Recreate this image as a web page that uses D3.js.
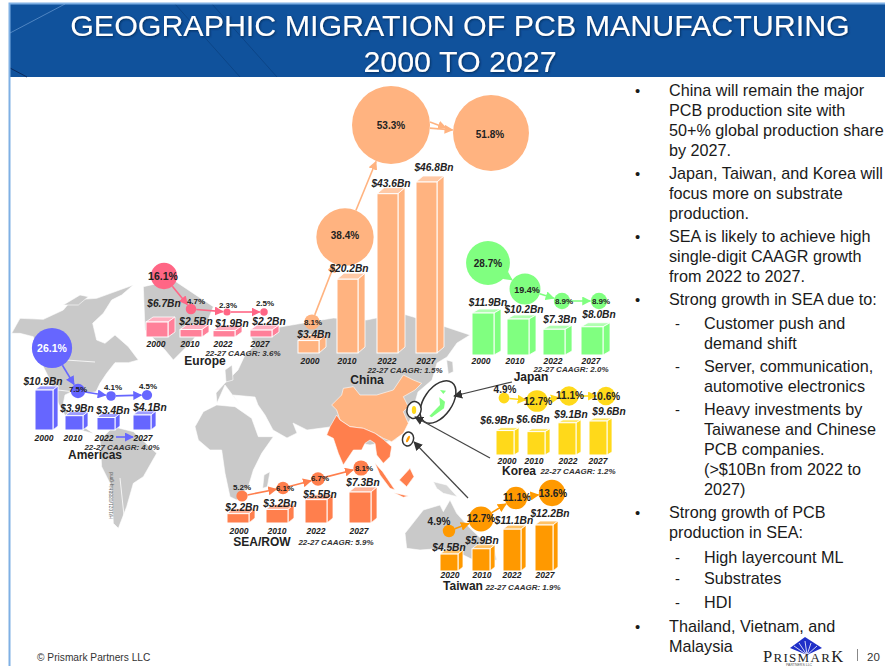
<!DOCTYPE html>
<html><head><meta charset="utf-8">
<script src="https://cdn.jsdelivr.net/npm/d3@7"></script>
<style>
html,body{margin:0;padding:0;background:#fff;overflow:hidden}
svg{display:block;font-family:"Liberation Sans",Arial,sans-serif}
</style></head><body><svg id="c" width="885" height="666"></svg>
<script>
// ---------- data ----------
const years = ['2000','2010','2022','2027'];
const taiwanYears = ['2020','2010','2022','2027'];
const americasValues = [10.9,3.9,3.4,4.1];
const americasShares = [26.1,7.5,4.1,4.5];
const europeValues = [6.7,2.5,1.9,2.2];
const europeShares = [16.1,4.7,2.3,2.5];
const chinaValues = [3.4,20.2,43.6,46.8];
const chinaShares = [8.1,38.4,53.3,51.8];
const japanValues = [11.9,10.2,7.3,8.0];
const japanShares = [28.7,19.4,8.9,8.9];
const koreaValues = [6.9,6.6,9.1,9.6];
const koreaShares = [4.9,12.7,11.1,10.6];
const taiwanValues = [4.5,5.9,11.1,12.2];
const taiwanShares = [4.9,12.7,11.1,13.6];
const seaValues = [2.2,3.2,5.5,7.3];
const seaShares = [5.2,6.1,6.7,8.1];
const caagrTexts = {Americas:'4.0%',Europe:'3.6%',China:'1.5%',Japan:'2.0%',Korea:'1.2%',Taiwan:'1.9%','SEA/ROW':'5.9%'};
const titleLines = ['GEOGRAPHIC MIGRATION OF PCB MANUFACTURING','2000 TO 2027'];
const notes = [
 ['b','China will remain the major',96],['t','PCB production site with',116],['t','50+% global production share',136],['t','by 2027.',156],
 ['b','Japan, Taiwan, and Korea will',179],['t','focus more on substrate',199],['t','production.',219],
 ['b','SEA is likely to achieve high',242],['t','single-digit CAAGR growth',262],['t','from 2022 to 2027.',282],
 ['b','Strong growth in SEA due to:',305],
 ['d','Customer push and',329],['s','demand shift',349],
 ['d','Server, communication,',372],['s','automotive electronics',392],
 ['d','Heavy investments by',415],['s','Taiwanese and Chinese',435],['s','PCB companies.',455],['s','(>$10Bn from 2022 to',475],['s','2027)',495],
 ['b','Strong growth of PCB',518],['t','production in SEA:',538],
 ['d','High layercount ML',563],['d','Substrates',584],['d','HDI',608],
 ['b','Thailand, Vietnam, and',632],['t','Malaysia',652]];

// ---------- layout ----------
const regions = [
 {name:'Americas',cats:years,vals:americasValues,shares:americasShares,color:'#6666ff',bubble:'#6666ff',top:'#9d9dff',rk:1,
  barX:[35,65,97,133],w:18,dx:5,dy:4,base:430,dom:[0,10.9],rng:[0,40],
  bx:[52,78,111,147],by:[348,391,396,395],
  px:[52,78,113,148],py:[348,389,387,386],ps:[10.5,8,8,8],
  vx:[43,77,113,150],vy:[381,408,410,407],yx:[44,73,104,143],yy:438,
  nameAt:[95,455],caagrAt:[122,447]},
 {name:'Europe',cats:years,vals:europeValues,shares:europeShares,color:'#ff8099',bubble:'#ff6685',top:'#ffb0c0',rk:1,
  barX:[146,180,213,250],w:22,dx:7,dy:5,base:337,dom:[0,6.7],rng:[3,15],
  bx:[164,191,227,264],by:[276,309,312,312],
  px:[163,196,228,265],py:[276,301,305,303],ps:[10.5,8,8,8],
  vx:[164,196,232,269],vy:[303,321,323,321],yx:[156,190,223,260],yy:344,
  nameAt:[205,361],caagrAt:[243,353]},
 {name:'China',cats:years,vals:chinaValues,shares:chinaShares,color:'#ffb380',bubble:'#ffb380',top:'#ffc9a6',rk:1,
  barX:[298,337,377,416],w:21,dx:7,dy:6,base:353,dom:[0,46.8],rng:[0,171],
  bx:[312,345,391,491],by:[322,237,125,133],
  px:[313,345,391,490],py:[322,235,125,134],ps:[8,10,10,10],
  vx:[314,349,391,434],vy:[334,268,183,167],yx:[310,347,387,426],yy:361,
  nameAt:[367,380],caagrAt:[405,370]},
 {name:'Japan',cats:years,vals:japanValues,shares:japanShares,color:'#80ff80',bubble:'#80ff80',top:'#b0ffb0',rk:1,
  barX:[472,507,543,581],w:22,dx:7,dy:4,base:355,dom:[0,11.9],rng:[0,42],
  bx:[488,525,562,599],by:[263,289,301,301],
  px:[488,527,564,601],py:[263,290,301,301],ps:[10,9,8,8],
  vx:[488,524,560,599],vy:[302,309,319,314],yx:[481,515,553,591],yy:361,
  nameAt:[531,377],caagrAt:[571,369]},
 {name:'Korea',cats:years,vals:koreaValues,shares:koreaShares,color:'#ffd91a',bubble:'#ffd91a',top:'#ffe866',rk:1,
  barX:[496,527,558,589],w:18,dx:5,dy:3,base:455,dom:[0,9.6],rng:[0,34],
  bx:[504,537,569,606],by:[398,401,396,396],
  px:[505,538,570,606],py:[389,401,395,396],ps:[10,10,10,10],
  vx:[497,533,571,609],vy:[420,419,414,411],yx:[507,534,568,598],yy:461,
  nameAt:[519,471],caagrAt:[578,471]},
 {name:'Taiwan',cats:taiwanYears,vals:taiwanValues,shares:taiwanShares,color:'#ff9900',bubble:'#ff9900',top:'#ffc266',rk:1.15,
  barX:[440,472,503,535],w:18,dx:5,dy:4,base:571,dom:[0,12.2],rng:[0,46],
  bx:[449,481,516,552],by:[531,519,498,493],
  px:[439,481,517,553],py:[521,518,497,493],ps:[10,10,10,10],
  vx:[449,482,514,550],vy:[547,540,520,513],yx:[450,482,512,545],yy:575,
  nameAt:[463,586],caagrAt:[523,587]},
 {name:'SEA/ROW',cats:years,vals:seaValues,shares:seaShares,color:'#ff7f4d',bubble:'#ff7f4d',top:'#ffb499',rk:1,
  barX:[227,266,305,349],w:22,dx:6,dy:5,base:523,dom:[0,7.3],rng:[0,31],
  bx:[242,283,318,361],by:[496,488,479,468],
  px:[242,285,320,364],py:[487,488,478,468],ps:[8,8,8,8],
  vx:[242,280,320,363],vy:[507,503,494,482],yx:[239,277,316,359],yy:531,
  nameAt:[262,542],caagrAt:[336,542]}
];

const svg = d3.select('#c');
const defs = svg.append('defs');
const shadow = defs.append('filter').attr('id','ts').attr('x','-5%').attr('y','-20%').attr('width','110%').attr('height','140%');
shadow.append('feDropShadow').attr('dx',1).attr('dy',1).attr('stdDeviation',0.8).attr('flood-color','#06284f').attr('flood-opacity',0.8);
function marker(id,color){
  defs.append('marker').attr('id',id).attr('viewBox','0 0 10 10').attr('refX',9).attr('refY',5)
   .attr('markerWidth',9).attr('markerHeight',9).attr('markerUnits','userSpaceOnUse').attr('orient','auto')
   .append('path').attr('d','M0,0L10,5L0,10Z').attr('fill',color);
}

// ---------- frame / header ----------
svg.append('rect').attr('x',10).attr('y',4).attr('width',875).attr('height',73).attr('fill','#10529c');
[[10,33,65,4,'#4f85c2'],[175,4,240,77,'#0c4587'],[212,4,277,77,'#0c4587'],[10,68,27,77,'#0a2a5e']].forEach(l=>
  svg.append('line').attr('x1',l[0]).attr('y1',l[1]).attr('x2',l[2]).attr('y2',l[3]).attr('stroke',l[4]).attr('stroke-width',1));
svg.append('path').attr('d','M9.5,666V3.5H885').attr('fill','none').attr('stroke','#7fb0e4').attr('stroke-width',2);
svg.selectAll('text.title').data(titleLines).join('text').attr('class','title')
  .attr('x',460).attr('y',(d,i)=>36+i*36).attr('text-anchor','middle').attr('fill','#fff')
  .attr('font-size',30.4).attr('filter','url(#ts)').text(d=>d);

// ---------- background map (decoration) ----------
const line = d3.line().curve(d3.curveLinearClosed);
const zp = (x0,y0,s)=>s.trim().split(/\s+/).map(p=>{const [a,b]=p.split(',').map(Number);return [x0+a/3,y0+b/3];});
const mapG = svg.append('g');
const gray='#c9c9c9';
const shapes = [
 [0,280,'35,160 60,115 130,118 190,90 215,60 290,55 400,15 365,45 335,60 310,100 278,130 290,180 315,190 345,165 385,200 415,240 385,248 345,248 320,280 300,310 288,335 265,340 225,330 195,345 190,370 215,420 250,440 295,470 285,462 240,450 200,415 175,370 150,300 120,240 100,170 60,160',gray],
 [0,280,'190,75 240,45 265,50 235,75',gray],
 [0,280,'300,480 340,440 400,455 470,520 430,590 400,610 380,680 355,745 340,730 335,620 305,560',gray],
 [0,280,'430,20 520,0 640,80 620,130 570,190 520,240 495,210 435,150',gray],
 [0,0,'792,990 850,985 880,1000 860,1020 800,1015',gray],
 [190,340,'15,260 40,215 80,195 135,200 185,235 205,290 250,290 215,340 190,390 175,440 140,480 120,470 105,400 95,330 60,330 25,300',gray],
 [190,340,'222,405 240,395 232,440 218,445',gray],
 [0,0,'786,990 1000,954 1100,960 1200,939 1320,975 1410,1005 1371,1029 1341,1071 1311,1089 1296,1140 1254,1176 1230,1260 1185,1320 1110,1335 1035,1320 990,1281 921,1290 879,1269 891,1299 861,1314 819,1290 795,1245 774,1215 765,1191 699,1185 720,1215 675,1155 651,1209 648,1179 675,1149 714,1110 735,1065 765,1035 750,1005',gray],
 [0,0,'675,1110 696,1095 699,1140 678,1146',gray],
 [390,360,'170,0 188,5 190,35 175,42 172,20',gray],
 [400,460,'15,220 70,150 120,135 130,155 150,120 170,160 210,205 285,275 290,300 240,310 190,285 130,265 60,270 20,265',gray],
 [400,460,'100,65 140,75 172,110 130,100 110,85','#d6d6d6'],
 [190,340,'425,195 455,165 460,145 490,140 510,165 560,165 610,150 640,105 670,120 695,130 675,150 640,170 655,200 640,215 655,250 640,280 605,305 580,295 555,280 520,265 480,260 450,240 440,210','#ffb380'],
 [190,340,'440,225 450,240 480,260 520,265 555,280 580,298 605,320 600,350 580,370 560,345 555,310 540,300 525,310 515,330 490,330 460,375 445,340 430,295 410,285 420,260','#ff7f4d'],
 [190,340,'555,370 578,395 615,450 600,445 570,405','#ff7f4d'],
 [190,340,'628,420 660,385 672,410 650,440','#ff7f4d'],
 [190,340,'612,458 655,468 640,472','#ff7f4d'],
 [390,360,'118,168 150,135 148,112 165,125 162,145 125,172','#80ff80'],
 [390,360,'150,90 168,92 160,102','#80ff80']
];
mapG.selectAll('path').data(shapes).join('path')
  .attr('d',d=>line(zp(d[0],d[1],d[2]))).attr('fill',d=>d[3]).attr('stroke','#fff').attr('stroke-width',0.6);
mapG.selectAll('path.b').data([[66,360,95,362],[58,390,83,393],[120,478,125,525]]).join('path')
  .attr('d',d=>`M${d[0]},${d[1]}L${d[2]},${d[3]}`).attr('stroke','#fff').attr('fill','none').attr('stroke-width',0.8);
svg.append('text').attr('transform','translate(113,519) rotate(-90)').attr('font-size',5).attr('fill','#666').text('H/1021/0888hlq-gmd');

// callout ovals and leaders
const ovals=[[438,402,14,24,35,'none'],[414,410,7,8.5,15,'none'],[408,439,5.5,7,15,'none']];
svg.selectAll('ellipse.o').data(ovals).join('ellipse')
  .attr('transform',d=>`translate(${d[0]},${d[1]}) rotate(${d[4]})`).attr('rx',d=>d[2]).attr('ry',d=>d[3])
  .attr('fill','#fff').attr('stroke','#333').attr('stroke-width',1.5);
shapes.slice(-2).forEach(d=>svg.append('path').attr('d',line(zp(d[0],d[1],d[2]))).attr('fill',d[3]));
svg.append('ellipse').attr('cx',414).attr('cy',410).attr('rx',2.2).attr('ry',4).attr('fill','#ffd91a');
svg.append('ellipse').attr('transform','translate(408,439) rotate(25)').attr('rx',1.3).attr('ry',3.5).attr('fill','#ff9900');
marker('mk','#333');
[[512,382,454,396],[490,458,415,417],[468,498,414,442]].forEach(a=>
  svg.append('line').attr('x1',a[0]).attr('y1',a[1]).attr('x2',a[2]).attr('y2',a[3])
   .attr('stroke','#444').attr('stroke-width',1.2).attr('marker-end','url(#mk)'));

// ---------- regions ----------
const rScale = d3.scaleLinear().domain([0,53.3]).range([2,39]);
regions.forEach((R,ri)=>{
  const g = svg.append('g').attr('class','region');
  const mid='m'+ri; marker(mid,R.bubble);
  const x = d3.scaleOrdinal().domain(R.cats).range(R.barX);
  const h = d3.scaleLinear().domain(R.dom).range(R.rng);
  const bubX = d3.scaleOrdinal().domain(R.cats).range(R.bx);
  const bubY = d3.scaleOrdinal().domain(R.cats).range(R.by);
  const rad = s => rScale(s)*R.rk;
  const rows = R.cats.map((c,i)=>({c,v:R.vals[i],s:R.shares[i],i}));
  // bars
  const bars = g.selectAll('g.bar').data(rows).join('g').attr('class','bar');
  bars.append('path').attr('fill',R.top).attr('stroke','#fff').attr('stroke-width',0.8)
    .attr('d',d=>{const l=x(d.c),t=R.base-h(d.v);return `M${l},${t}l${R.dx},${-R.dy}h${R.w}l${-R.dx},${R.dy}Z`;});
  bars.append('path').attr('fill',R.color).attr('stroke','#fff').attr('stroke-width',0.8)
    .attr('d',d=>{const r=x(d.c)+R.w,t=R.base-h(d.v);return `M${r},${t}l${R.dx},${-R.dy}V${R.base-R.dy}L${r},${R.base}Z`;});
  bars.append('rect').attr('x',d=>x(d.c)).attr('y',d=>R.base-h(d.v)).attr('width',R.w).attr('height',d=>h(d.v))
    .attr('fill',R.color).attr('stroke','#fff').attr('stroke-width',1);
  // arrows
  d3.pairs(rows).forEach(([a,b])=>{
    const x1=bubX(a.c),y1=bubY(a.c),x2=bubX(b.c),y2=bubY(b.c);
    const L=Math.hypot(x2-x1,y2-y1),ux=(x2-x1)/L,uy=(y2-y1)/L;
    g.append('line').attr('x1',x1+ux*rad(a.s)).attr('y1',y1+uy*rad(a.s))
     .attr('x2',x2-ux*(rad(b.s)+0.5)).attr('y2',y2-uy*(rad(b.s)+0.5))
     .attr('stroke',R.bubble).attr('stroke-width',1.6).attr('marker-end',`url(#${mid})`);
  });
  // bubbles
  g.selectAll('circle').data(rows).join('circle').attr('cx',d=>bubX(d.c)).attr('cy',d=>bubY(d.c))
    .attr('r',d=>rad(d.s)).attr('fill',R.bubble);
  // texts
  g.selectAll('text.pct').data(rows).join('text').attr('class','pct')
    .attr('x',d=>R.px[d.i]).attr('y',d=>R.py[d.i]).attr('dy','0.36em').attr('text-anchor','middle')
    .attr('font-size',d=>R.ps[d.i]).attr('font-weight','bold')
    .attr('fill',d=>d.s===26.1?'#fff':'#222').text(d=>d.s.toFixed(1)+'%');
  g.selectAll('text.val').data(rows).join('text').attr('class','val')
    .attr('x',d=>R.vx[d.i]).attr('y',d=>R.vy[d.i]).attr('dy','0.36em').attr('text-anchor','middle')
    .attr('font-size',10.2).attr('font-weight','bold').attr('font-style','italic').attr('fill','#222')
    .text(d=>`$${d.v.toFixed(1)}Bn`);
  g.selectAll('text.yr').data(rows).join('text').attr('class','yr')
    .attr('x',d=>R.yx[d.i]).attr('y',R.yy).attr('dy','0.36em').attr('text-anchor','middle')
    .attr('font-size',8.5).attr('font-weight','bold').attr('font-style','italic').attr('fill','#222').text(d=>d.c);
  g.append('text').attr('x',R.nameAt[0]).attr('y',R.nameAt[1]).attr('dy','0.36em').attr('text-anchor','middle')
    .attr('font-size',12).attr('font-weight','bold').attr('fill','#222').text(R.name);
  g.append('text').attr('x',R.caagrAt[0]).attr('y',R.caagrAt[1]).attr('dy','0.36em').attr('text-anchor','middle')
    .attr('font-size',8).attr('font-weight','bold').attr('font-style','italic').attr('fill','#333')
    .text(`22-27 CAAGR: ${caagrTexts[R.name]}`);
});
svg.append('line').attr('x1',116).attr('y1',437).attr('x2',133).attr('y2',437).attr('stroke','#6666ff').attr('stroke-width',1.6).attr('marker-end','url(#m0)');
svg.append('line').attr('x1',430).attr('y1',122).attr('x2',446).attr('y2',128).attr('stroke','#ffb380').attr('stroke-width',1.6).attr('marker-end','url(#m2)');

// ---------- commentary ----------
const indent={b:669,t:669,d:704,s:704};
const notesG=svg.append('g');
notesG.selectAll('text.n').data(notes).join('text').attr('class','n')
  .attr('x',d=>indent[d[0]]).attr('y',d=>d[2]).attr('font-size',16.2).attr('fill','#1a1a1a').text(d=>d[1]);
notesG.selectAll('text.m').data(notes.filter(d=>d[0]==='b'||d[0]==='d')).join('text').attr('class','m')
  .attr('x',d=>d[0]==='b'?635:675).attr('y',d=>d[2]).attr('font-size',14.8).attr('fill','#1a1a1a').text(d=>d[0]==='b'?'•':'-');

// ---------- footer ----------
svg.append('text').attr('x',37).attr('y',661).attr('font-size',10.2).attr('fill','#333').text('© Prismark Partners LLC');
const logo=svg.append('g');
logo.append('path').attr('d','M805,637L822,648L807,655L790,648Z').attr('fill','#1f2fc8');
[[794,646],[799,643],[805,641],[811,643],[817,646]].forEach(p=>logo.append('line').attr('x1',807).attr('y1',655).attr('x2',p[0]).attr('y2',p[1]).attr('stroke','#fff').attr('stroke-width',0.8));
const lt=logo.append('text').attr('x',763).attr('y',662).attr('font-family','"Liberation Serif",serif').attr('fill','#222').attr('letter-spacing',1.3);
lt.append('tspan').attr('font-size',16.5).text('P');
lt.append('tspan').attr('font-size',13).text('RISMAR');
lt.append('tspan').attr('font-size',16.5).text('K');
logo.append('text').attr('x',786).attr('y',666).attr('font-size',3.5).attr('fill','#555').text('PARTNERS LLC');
svg.append('line').attr('x1',857.5).attr('y1',649).attr('x2',857.5).attr('y2',661).attr('stroke','#888');
svg.append('text').attr('x',867).attr('y',661).attr('font-size',11.5).attr('fill','#333').text('20');
</script></body></html>
